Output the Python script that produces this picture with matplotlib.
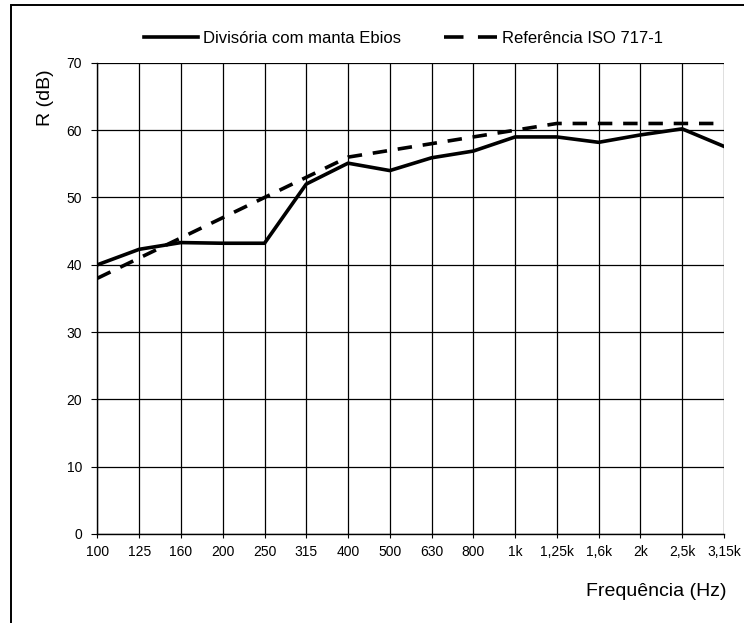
import numpy as np
import matplotlib.pyplot as plt
from matplotlib.patches import Rectangle

plt.rcParams['font.family'] = ['Liberation Sans', 'DejaVu Sans']

# data
freqs = ["100", "125", "160", "200", "250", "315", "400", "500", "630", "800",
         "1k", "1,25k", "1,6k", "2k", "2,5k", "3,15k"]
divisoria = [40, 42.3, 43.3, 43.2, 43.2, 52, 55.1, 54, 55.9, 56.9,
             59, 59, 58.2, 59.3, 60.2, 57.6]
referencia = [38, 41, 44, 47, 50, 53, 56, 57, 58, 59,
              60, 61, 61, 61, 61, 61]

fig = plt.figure(figsize=(7.44, 6.23), dpi=100)
ax = fig.add_axes([0.131, 0.143, 0.842, 0.756])

x = np.arange(len(freqs))
ax.plot(x, divisoria, color='black', lw=2.6, label='Divisória com manta Ebios')
ax.plot(x, referencia, color='black', lw=2.6, ls=(0, (4, 3)), label='Referência ISO 717-1')

ax.set_xlim(0, len(freqs) - 1)
ax.set_ylim(0, 70)
ax.set_xticks(x)
ax.set_xticklabels(freqs)
ax.set_yticks(np.arange(0, 71, 10))
ax.grid(True, color='black', lw=0.9)
ax.tick_params(labelsize=10, color='black')
ax.tick_params(axis='x', length=3, pad=5)
ax.tick_params(axis='y', length=4, pad=7)
for s in ['top', 'right']:
    ax.spines[s].set_visible(False)
for s in ['left', 'bottom']:
    ax.spines[s].set_linewidth(1.0)

fig.text(0.0605, 0.844, 'R (dB)', rotation=90, fontsize=14, ha='center', va='center')
fig.text(0.977, 0.05, 'Frequência (Hz)', fontsize=14, ha='right', va='center')

leg = fig.legend(loc='center', bbox_to_anchor=(0.543, 0.939), ncol=2, frameon=False,
                 fontsize=12, handlelength=3.2, columnspacing=2.6, handletextpad=0.3)
# two dashes in the legend sample, like the original
leg.get_lines()[1].set_linestyle((0, (5.4, 4)))

fig.add_artist(Rectangle((0.015, -0.01), 1.0, 1.002, transform=fig.transFigure,
                         fill=False, edgecolor='black', lw=1.4))

fig.savefig('out.png', dpi=100)
